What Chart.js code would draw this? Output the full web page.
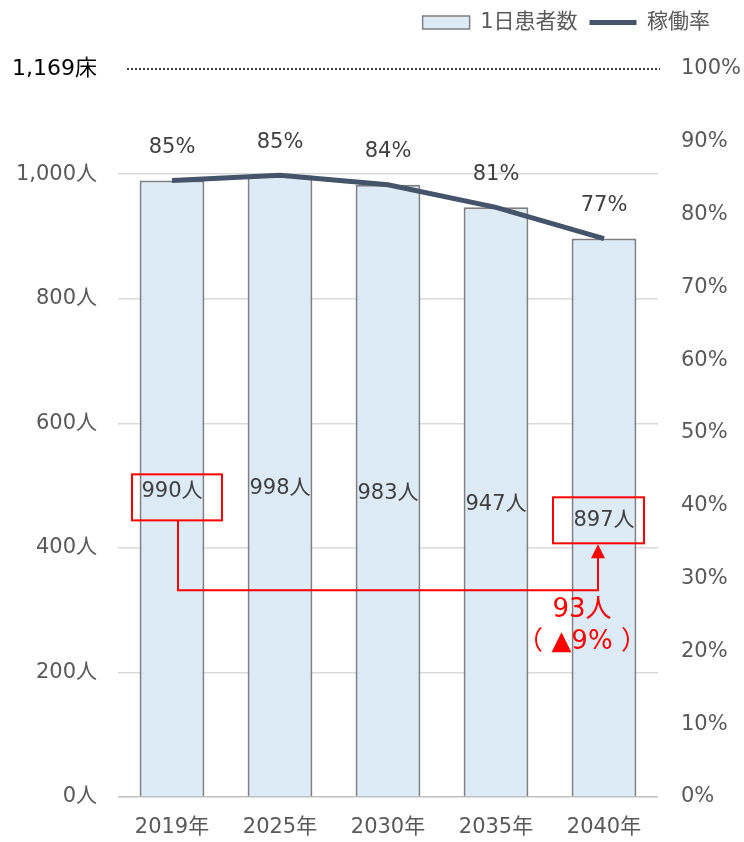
<!DOCTYPE html>
<html lang="ja">
<head>
<meta charset="utf-8">
<script src="https://cdn.jsdelivr.net/npm/chart.js@4.4.1/dist/chart.umd.min.js"></script>
<style>
  html, body { margin: 0; padding: 0; background: #fff; overflow: hidden; }
  canvas { display: block; }
</style>
</head>
<body>
<canvas id="chart" width="744" height="842"></canvas>
<script>
// データ
const years    = ["2019年", "2025年", "2030年", "2035年", "2040年"];
const patients = [990, 998, 983, 947, 897];     // 1日患者数
const rates    = [84.7, 85.4, 84.1, 81.0, 76.7]; // 稼働率(%)
const beds     = 1169;                          // 病床数
const leftTicks  = [0, 200, 400, 600, 800, 1000, beds];

const FONT = '"DejaVu Sans", "Noto Sans CJK JP", sans-serif';
const GRAY = "#595959";
const FS = 21;

function comma(v){ return String(v).replace(/\B(?=(\d{3})+(?!\d))/g, ","); }

// 凡例の位置調整（下に余白、右端を少し内側へ）
const legendGap = {
  id: "legendGap",
  beforeInit(chart){
    const fit = chart.legend.fit;
    chart.legend.fit = function(){ fit.bind(chart.legend)(); this.height += 26; };
  },
  beforeDraw(chart){ chart.legend.right = chart.width - 22; }
};

// ラベル・点線・赤枠注記
const annot = {
  id: "annot",
  afterDatasetsDraw(chart){
    const { ctx, chartArea: a, scales: { y } } = chart;
    const bars = chart.getDatasetMeta(0).data;
    const pts  = chart.getDatasetMeta(1).data;
    ctx.save();

    // 病床数の点線
    const yb = y.getPixelForValue(beds);
    ctx.strokeStyle = "#000"; ctx.lineWidth = 1.5; ctx.setLineDash([2, 2]);
    ctx.beginPath(); ctx.moveTo(a.left + 9, yb); ctx.lineTo(a.right + 2, yb); ctx.stroke();
    ctx.setLineDash([]);

    ctx.textAlign = "center"; ctx.textBaseline = "middle";
    ctx.font = FS + "px " + FONT;
    ctx.fillStyle = "#404040";
    const mids = bars.map(b => (b.y + b.base) / 2 + 3);
    bars.forEach((b, i) => ctx.fillText(patients[i] + "人", b.x, mids[i]));
    pts.forEach((p, i) => ctx.fillText(Math.round(rates[i]) + "%", p.x, p.y - 33));

    // 赤枠
    const b0 = bars[0], b4 = bars[bars.length - 1];
    const m0 = mids[0], m4 = mids[mids.length - 1];
    ctx.strokeStyle = "#FF0000"; ctx.fillStyle = "#FF0000"; ctx.lineWidth = 2;
    ctx.strokeRect(b0.x - 40, m0 - 17, 90, 46);
    ctx.strokeRect(b4.x - 51, m4 - 23, 91, 46);

    // 矢印
    const x0 = b0.x + 6, x4 = b4.x - 6;
    const yc = m0 + 29 + 70;
    const tip = m4 + 24;
    ctx.beginPath();
    ctx.moveTo(x0, m0 + 29); ctx.lineTo(x0, yc); ctx.lineTo(x4, yc); ctx.lineTo(x4, tip + 12);
    ctx.stroke();
    ctx.beginPath();
    ctx.moveTo(x4, tip); ctx.lineTo(x4 - 7, tip + 14); ctx.lineTo(x4 + 7, tip + 14); ctx.closePath();
    ctx.fill();

    const diff = patients[0] - patients[patients.length - 1];
    const pct = Math.round(diff / patients[0] * 100);
    ctx.font = "26px " + FONT;
    ctx.fillText(diff + "人", x4 - 16, yc + 20);
    ctx.fillText("（ ▲" + pct + "% ）", x4 - 16, yc + 52);
    ctx.restore();
  }
};

Chart.defaults.font.family = FONT;
Chart.defaults.color = GRAY;

new Chart(document.getElementById("chart"), {
  data: {
    labels: years,
    datasets: [
      {
        type: "bar", label: "1日患者数", data: patients, yAxisID: "y", order: 1,
        backgroundColor: "#DDEBF7", borderColor: "#7F7F7F", borderWidth: 2,
        barPercentage: 0.6, categoryPercentage: 1
      },
      {
        type: "line", label: "稼働率", data: rates, yAxisID: "y1", order: 0,
        borderColor: "#44546A", backgroundColor: "#44546A", borderWidth: 5,
        pointRadius: 0, tension: 0
      }
    ]
  },
  options: {
    responsive: false, animation: false, devicePixelRatio: 1,
    layout: { padding: 0 },
    plugins: {
      tooltip: { enabled: false },
      legend: {
        position: "top", align: "end",
        labels: {
          usePointStyle: true, pointStyleWidth: 47, boxHeight: 13, padding: 12,
          color: GRAY, font: { size: FS },
          sort: (a, b) => a.datasetIndex - b.datasetIndex,
          generateLabels(chart){
            const items = Chart.defaults.plugins.legend.labels.generateLabels(chart);
            items.forEach(it => {
              const ds = chart.data.datasets[it.datasetIndex];
              it.pointStyle = ds.type === "line" ? "line" : "rect";
              it.lineWidth = ds.type === "line" ? 5 : 1.5;
            });
            return items;
          }
        }
      }
    },
    scales: {
      x: {
        grid: { display: false, drawTicks: false },
        border: { display: false },
        ticks: { padding: 18, font: { size: FS }, color: GRAY },
        afterFit(s){ s.height = 45; }
      },
      y: {
        position: "left", min: 0, max: beds,
        afterBuildTicks(s){ s.ticks = leftTicks.map(v => ({ value: v })); },
        afterFit(s){ s.width = 118; },
        grid: {
          drawTicks: false,
          color: c => c.tick && c.tick.value === beds ? "rgba(0,0,0,0)"
                    : (c.tick && c.tick.value === 0 ? "#BFBFBF" : "#D9D9D9"),
          lineWidth: 1.5
        },
        border: { display: false },
        ticks: {
          padding: 21,
          color: c => c.tick && c.tick.value === beds ? "#000" : GRAY,
          font: c => ({ size: c.tick && c.tick.value === beds ? 22 : FS }),
          callback: v => comma(v) + (v === beds ? "床" : "人")
        }
      },
      y1: {
        position: "right", min: 0, max: 100,
        afterFit(s){ s.width = 86; },
        grid: { display: false, drawOnChartArea: false, drawTicks: false },
        border: { display: false },
        ticks: { stepSize: 10, padding: 23, font: { size: FS }, color: GRAY, callback: v => v + "%" }
      }
    }
  },
  plugins: [legendGap, annot]
});
</script>
</body>
</html>
